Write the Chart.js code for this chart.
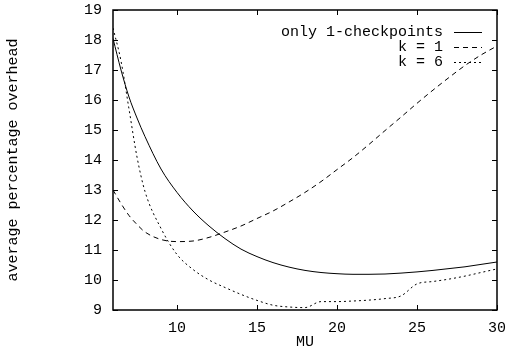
<!DOCTYPE html>
<html>
<head>
<meta charset="utf-8">
<script src="https://cdn.jsdelivr.net/npm/chart.js@4"></script>
<style>
  body { margin: 0; background: #fff; }
  canvas { display: block; }
</style>
</head>
<body>
<canvas id="chart" width="507" height="351"></canvas>
<script>
// MU values on the x axis
const mu = [6, 6.5, 7, 7.5, 8, 9, 10, 11, 12, 13, 14, 15, 16, 17, 18, 19, 20, 21, 22, 23, 24, 25, 26, 27, 28, 29, 30];

// average percentage overhead for each series
const onlyOneCheckpoints = [18.05, 17.0, 16.1, 15.4, 14.78, 13.7, 12.92, 12.3, 11.8, 11.38, 11.03, 10.78, 10.58, 10.43, 10.32, 10.25, 10.21, 10.19, 10.19, 10.2, 10.23, 10.27, 10.32, 10.38, 10.44, 10.52, 10.6];
const kOne = [13.0, 12.55, 12.15, 11.85, 11.6, 11.35, 11.28, 11.3, 11.42, 11.6, 11.8, 12.05, 12.3, 12.6, 12.92, 13.28, 13.68, 14.08, 14.52, 14.98, 15.43, 15.89, 16.33, 16.75, 17.15, 17.5, 17.8];
const kSix = [18.4, 17.3, 15.7, 14.1, 12.95, 11.72, 10.85, 10.35, 10.0, 9.75, 9.52, 9.32, 9.16, 9.1, 9.08, 9.28, 9.28, 9.3, 9.33, 9.38, 9.47, 9.87, 9.95, 10.03, 10.13, 10.25, 10.37];

const seriesLabels = ["only 1-checkpoints", "k = 1", "k = 6"];
const xTicks = [10, 15, 20, 25, 30];
const yTicks = [9, 10, 11, 12, 13, 14, 15, 16, 17, 18, 19];

const FONT = "'Liberation Mono', 'Courier New', monospace";

function toPoints(values) {
    return values.map((v, i) => ({ x: mu[i], y: v }));
}

// gnuplot style frame with inward ticks on all four sides
const framePlugin = {
    id: "frame",
    afterDraw(chart) {
        const ctx = chart.ctx;
        const a = chart.chartArea;
        const xs = chart.scales.x;
        const ys = chart.scales.y;
        const len = 5;
        ctx.save();
        ctx.strokeStyle = "#000";
        ctx.lineWidth = 1;
        ctx.beginPath();
        xTicks.forEach(v => {
            const px = Math.round(xs.getPixelForValue(v)) + 0.5;
            ctx.moveTo(px, a.bottom); ctx.lineTo(px, a.bottom - len);
            ctx.moveTo(px, a.top); ctx.lineTo(px, a.top + len);
        });
        yTicks.forEach(v => {
            const py = Math.round(ys.getPixelForValue(v)) + 0.5;
            ctx.moveTo(a.left, py); ctx.lineTo(a.left + len, py);
            ctx.moveTo(a.right, py); ctx.lineTo(a.right - len, py);
        });
        ctx.stroke();
        ctx.lineWidth = 1.5;
        ctx.strokeRect(a.left, a.top, a.right - a.left, a.bottom - a.top);
        ctx.restore();
    }
};

// legend inside the plot, text right aligned, line sample after it
const keyPlugin = {
    id: "key",
    afterDatasetsDraw(chart) {
        const ctx = chart.ctx;
        ctx.save();
        ctx.font = "15px " + FONT;
        ctx.fillStyle = "#000";
        ctx.textAlign = "right";
        ctx.textBaseline = "middle";
        chart.data.datasets.forEach((ds, i) => {
            const y = 32 + i * 15;
            ctx.fillText(ds.label, 443, y);
            ctx.setLineDash(ds.borderDash || []);
            ctx.lineWidth = 1;
            ctx.beginPath();
            ctx.moveTo(454, y + 0.5);
            ctx.lineTo(482, y + 0.5);
            ctx.stroke();
        });
        ctx.restore();
    }
};

const ctx = document.getElementById("chart").getContext("2d");
new Chart(ctx, {
    type: "line",
    data: {
        datasets: [
            { label: seriesLabels[0], data: toPoints(onlyOneCheckpoints), borderDash: [] },
            { label: seriesLabels[1], data: toPoints(kOne), borderDash: [5, 4] },
            { label: seriesLabels[2], data: toPoints(kSix), borderDash: [2, 3] }
        ].map(d => Object.assign(d, {
            borderColor: "#000",
            borderWidth: 1,
            pointRadius: 0,
            fill: false,
            cubicInterpolationMode: "monotone"
        }))
    },
    options: {
        responsive: false,
        animation: false,
        layout: { padding: { top: 10, right: 10, left: 0, bottom: 0 } },
        plugins: {
            legend: { display: false },
            tooltip: { enabled: false }
        },
        scales: {
            x: {
                type: "linear",
                min: 6,
                max: 30,
                grid: { display: false, drawTicks: false },
                border: { display: false },
                afterBuildTicks: s => { s.ticks = xTicks.map(v => ({ value: v })); },
                afterFit: s => { s.height = 41; s.paddingLeft = 0; s.paddingRight = 0; },
                ticks: { color: "#000", padding: 9, maxRotation: 0, font: { family: FONT, size: 15 } },
                title: { display: true, text: "MU", color: "#000", padding: 0, font: { family: FONT, size: 15 } }
            },
            y: {
                min: 9,
                max: 19,
                grid: { display: false, drawTicks: false },
                border: { display: false },
                afterBuildTicks: s => { s.ticks = yTicks.map(v => ({ value: v })); },
                afterFit: s => { s.width = 113; s.paddingTop = 0; s.paddingBottom = 0; },
                ticks: { color: "#000", padding: 11, font: { family: FONT, size: 15 } },
                title: { display: true, text: "average percentage overhead", color: "#000", padding: { top: 4, bottom: 0 }, font: { family: FONT, size: 15 } }
            }
        }
    },
    plugins: [framePlugin, keyPlugin]
});
</script>
</body>
</html>
